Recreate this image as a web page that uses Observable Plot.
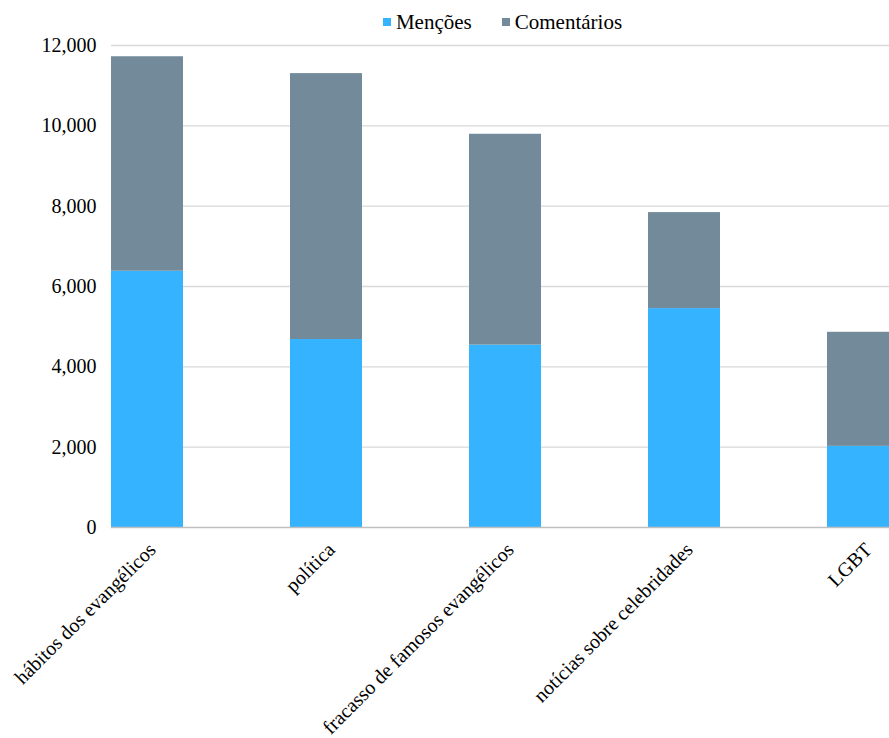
<!DOCTYPE html>
<html>
<head>
<meta charset="utf-8">
<script src="https://cdn.jsdelivr.net/npm/d3@7"></script>
<script src="https://cdn.jsdelivr.net/npm/@observablehq/plot@0.6"></script>
<style>
  body { margin: 0; background: white; font-family: 'Liberation Serif', 'DejaVu Serif', serif; }
  #wrap { position: relative; width: 889px; height: 738px; overflow: hidden; }
  #legend { position: absolute; top: 10px; left: 0; width: 889px; text-align: center; font-size: 21px; color: #000; z-index: 2; padding-left: 116px; box-sizing: border-box; font-family: 'Liberation Serif', 'DejaVu Serif', serif; }
  #legend span.item { display: inline-block; margin: 0 15px; }
  #legend span.sw { display: inline-block; width: 8px; height: 8px; margin-right: 5px; vertical-align: 3px; }
  #chart svg text { font-family: 'Liberation Serif', 'DejaVu Serif', serif; }
</style>
</head>
<body>
<div id="wrap">
  <div id="legend"></div>
  <div id="chart"></div>
</div>
<script>
const categories = ["hábitos dos evangélicos", "política", "fracasso de famosos evangélicos", "notícias sobre celebridades", "LGBT"];
const series = ["Menções", "Comentários"];
const mencoes = [6380, 4680, 4540, 5450, 2020];
const comentarios = [5340, 6620, 5250, 2390, 2840];
const colors = ["#36B3FF", "#728A99"];
const yTicks = [0, 2000, 4000, 6000, 8000, 10000, 12000];

const data = [];
categories.forEach((c, i) => {
  data.push({category: c, series: series[0], value: mencoes[i]});
  data.push({category: c, series: series[1], value: comentarios[i]});
});

const legend = document.getElementById("legend");
series.forEach((s, i) => {
  const item = document.createElement("span");
  item.className = "item";
  item.innerHTML = `<span class="sw" style="background:${colors[i]}"></span>${s}`;
  legend.appendChild(item);
});

const fmt = d3.format(",");
const chart = Plot.plot({
  width: 889,
  height: 738,
  marginTop: 45,
  marginBottom: 211,
  marginLeft: 111,
  marginRight: 0,
  style: {fontFamily: "'Liberation Serif', 'DejaVu Serif', serif", fontSize: "20px", color: "#000", background: "white"},
  x: {domain: categories, range: [111, 903], paddingInner: 0.6, paddingOuter: 0, align: 0, label: null},
  y: {domain: [0, 12000], ticks: yTicks, label: null},
  color: {domain: series, range: colors},
  marks: [
    Plot.gridY(yTicks.slice(1), {stroke: "#d9d9d9", strokeOpacity: 1, strokeWidth: 1.3}),
    Plot.barY(data, {x: "category", y: "value", fill: "series", order: series}),
    Plot.ruleY([0], {stroke: "#bfbfbf", strokeWidth: 1.5}),
    Plot.axisY(yTicks, {tickSize: 0, tickPadding: 15, tickFormat: fmt, fontSize: 20, label: null}),
    Plot.axisX({tickSize: 0, tickRotate: -45, tickPadding: 19, dx: 5, fontSize: 20, label: null})
  ]
});
document.getElementById("chart").appendChild(chart);
</script>
</body>
</html>
